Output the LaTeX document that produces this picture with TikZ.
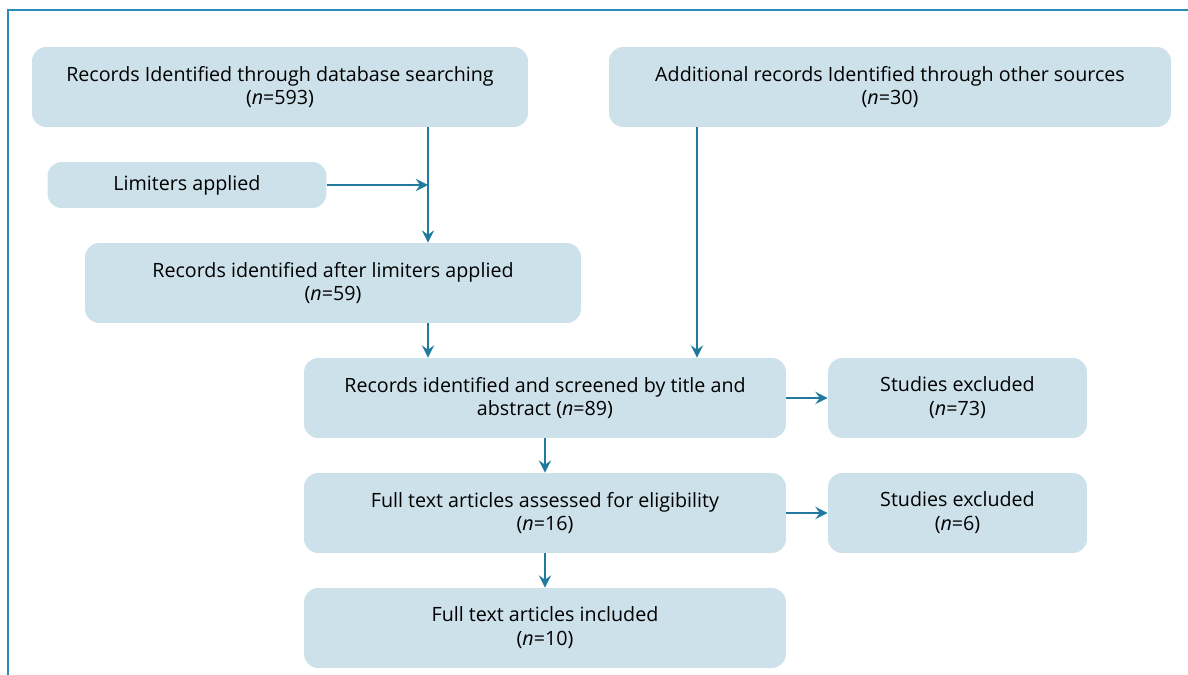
\documentclass[tikz,border=0pt]{standalone}
\usepackage{fontspec}
\setmainfont{Open Sans}
\usepackage{xcolor}
\usepackage{tikz}
\usetikzlibrary{arrows.meta}
\usetikzlibrary{calc}

\definecolor{boxblue}{HTML}{CCE1EA}
\definecolor{linkblue}{HTML}{1F7A9E}
\definecolor{framblue}{HTML}{2A8DB5}

\begin{document}
\begin{tikzpicture}
    [%%%%%%%%%%%%%%%%%%%%%%%%%%%%%%
        x=0.02cm, y=-0.02cm,
        box/.style={rectangle, fill=boxblue, rounded corners=0.28cm, inner sep=0pt,
            align=center, minimum height=1.6cm, font=\fontsize{11.2}{13.6}\selectfont},
        link/.style={draw=linkblue, line width=1pt, -{Stealth[length=7pt,width=7pt,inset=2.5pt]}}
    ]%%%%%%%%%%%%%%%%%%%%%%%%%%%%%%

\useasboundingbox (0,0) rectangle (1188,675);
\draw[framblue, line width=1.2pt] (8,675) -- (8,10) -- (1188,10);

% identification
\node[box, minimum width=9.92cm] (search) at (280,87)
    {Records Identified through database searching\\(\textit{n}=593)};
\node[box, minimum width=11.24cm] (other) at (890,87)
    {Additional records Identified through other sources\\(\textit{n}=30)};
\node[box, minimum width=5.58cm, minimum height=0.92cm] (limit) at (187,185)
    {Limiters applied};
\node[box, minimum width=9.92cm] (after) at (333,283)
    {Records identified after limiters applied\\(\textit{n}=59)};

% screening
\node[box, minimum width=9.64cm] (screen) at (545,398)
    {Records identified and screened by title and\\abstract (\textit{n}=89)};
\node[box, minimum width=5.18cm] (excl1) at (957.5,398)
    {Studies excluded\\(\textit{n}=73)};
\node[box, minimum width=9.64cm] (full) at (545,513)
    {Full text articles assessed for eligibility\\(\textit{n}=16)};
\node[box, minimum width=5.18cm] (excl2) at (957.5,513)
    {Studies excluded\\(\textit{n}=6)};
\node[box, minimum width=9.64cm] (incl) at (545,628)
    {Full text articles included\\(\textit{n}=10)};

\coordinate (join) at (428,185);

\draw[link] (search.south -| join) -- (after.north -| join);
\draw[link] (limit.east) -- (join);
\draw[link] (after.south -| join) -- (screen.north -| join);
\draw[link] (other.south -| 697,0) -- (screen.north -| 697,0);
\draw[link] (screen) -- (full);
\draw[link] (full) -- (incl);
\draw[link] (screen) -- (excl1);
\draw[link] (full) -- (excl2);

\end{tikzpicture}
\end{document}
